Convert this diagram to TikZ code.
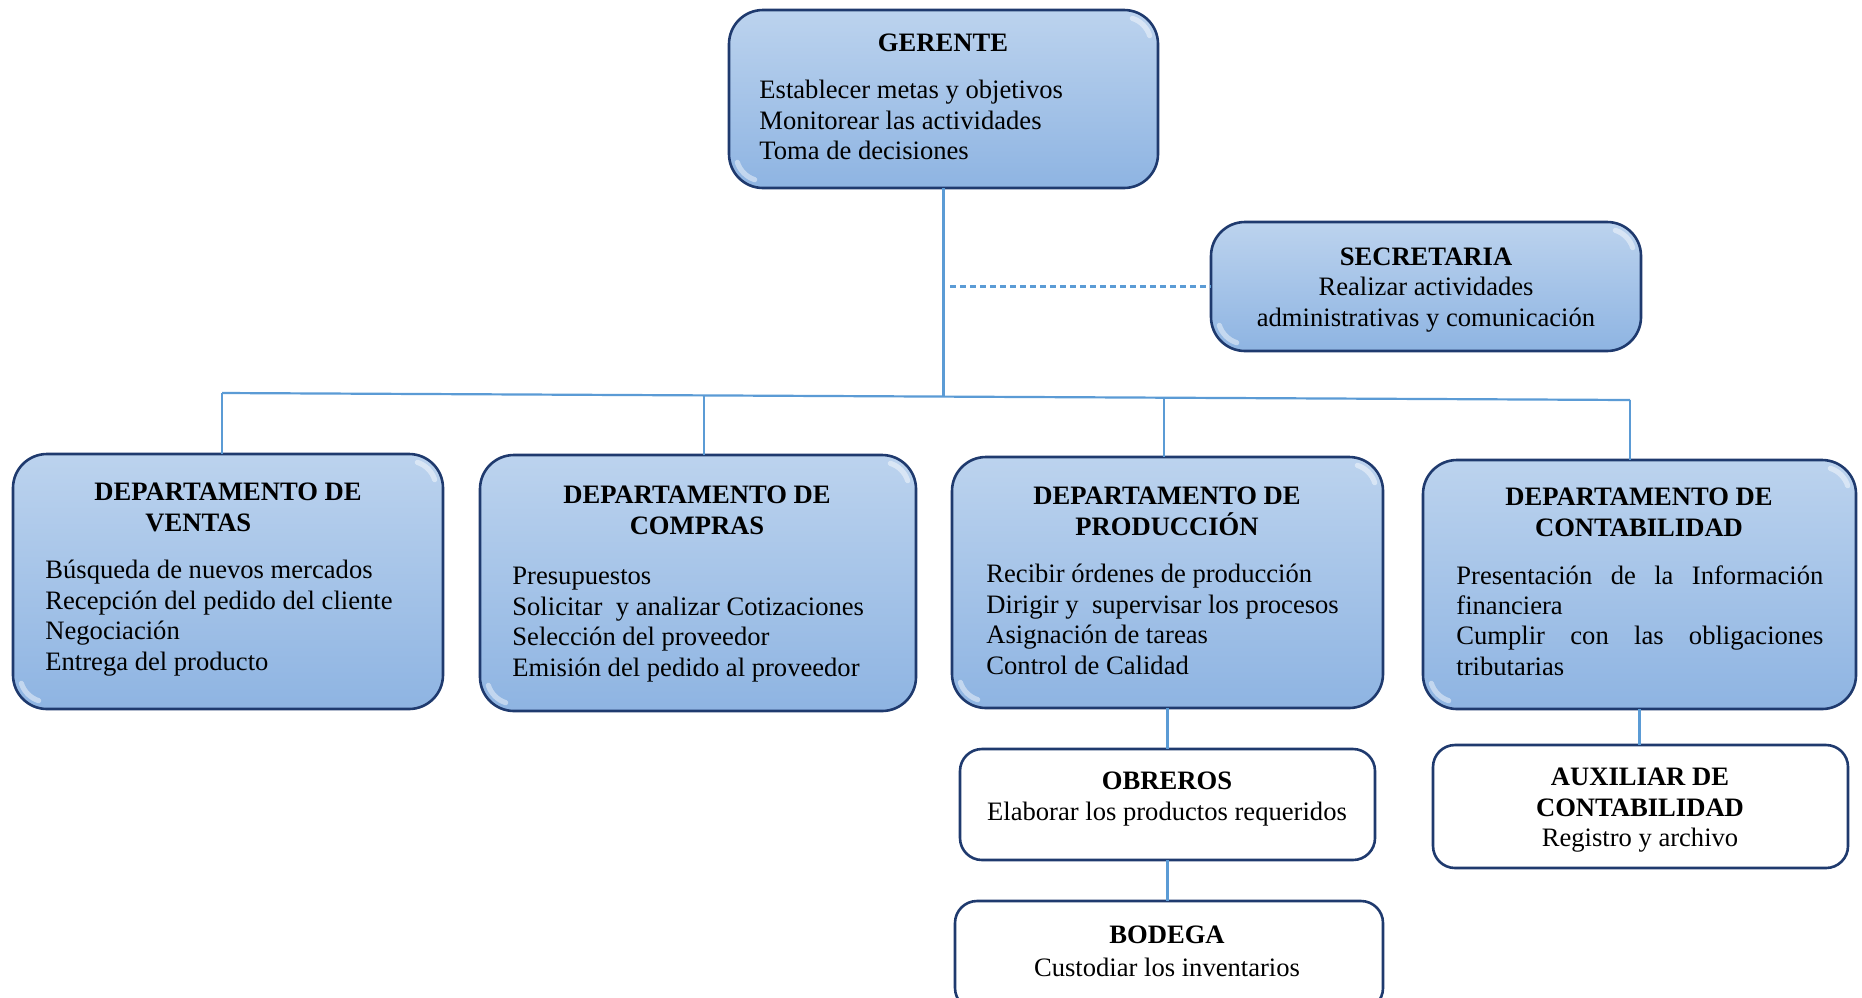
\documentclass[tikz,border=0pt]{standalone}
\usepackage{fontspec}
\setmainfont{Liberation Serif}
\usetikzlibrary{calc}
\definecolor{boxline}{HTML}{1F3A6E}
\definecolor{boxtop}{HTML}{BCD3EE}
\definecolor{boxbot}{HTML}{8EB4E2}
\definecolor{linkblue}{HTML}{5B9BD5}
% light bevel highlights in two corners of a blue box
\newcommand{\bevelglint}[1]{%
  \begin{scope}[x=1pt,y=1pt]
    \draw[glint] ($(#1.north east)+(-17,-17)+(72:13.5)$) arc[start angle=72,end angle=18,radius=13.5];
    \draw[glint] ($(#1.south west)+(17,17)+(252:13.5)$) arc[start angle=252,end angle=198,radius=13.5];
  \end{scope}}
\begin{document}
\begin{tikzpicture}[x=0.5pt,y=-0.5pt,
  bluebox/.style={draw=boxline, line width=1.3pt, rounded corners=17pt,
    top color=boxtop, bottom color=boxbot, inner sep=0pt, outer sep=0pt},
  whitebox/.style={draw=boxline, line width=1.3pt, rounded corners=11pt,
    fill=white, inner sep=0pt, outer sep=0pt},
  glint/.style={draw=white, opacity=0.45, line width=2.6pt, line cap=round},
  head/.style={font=\fontsize{13.3}{15.4}\selectfont\bfseries, align=center, inner sep=0pt},
  body/.style={font=\fontsize{13.3}{15.2}\selectfont, align=left, inner sep=0pt},
  cbody/.style={body, align=center},
  link/.style={draw=linkblue, line width=1.1pt},
]
\clip (0,0) rectangle (1862,997);

% ---- boxes ----
\node[bluebox, minimum width=214.5pt, minimum height=89pt]  (ger) at (943.5,99) {};
\node[bluebox, minimum width=215pt,   minimum height=64.5pt] (sec) at (1426,286.5) {};
\node[bluebox, minimum width=215pt,   minimum height=127.5pt] (ven) at (228,581.5) {};
\node[bluebox, minimum width=218pt,   minimum height=128pt]  (com) at (698,583) {};
\node[bluebox, minimum width=215.5pt, minimum height=125.5pt] (pro) at (1167.5,582.5) {};
\node[bluebox, minimum width=216.5pt, minimum height=124.5pt] (con) at (1639.5,584.5) {};
\node[whitebox, minimum width=207.5pt, minimum height=55.5pt] (obr) at (1167.5,804.5) {};
\node[whitebox, minimum width=214pt,   minimum height=54.5pt] (bod) at (1169,955.5) {};
\node[whitebox, minimum width=207.5pt, minimum height=61.5pt] (aux) at (1640.5,806.5) {};

\bevelglint{ger}
\bevelglint{sec}
\bevelglint{ven}
\bevelglint{com}
\bevelglint{pro}
\bevelglint{con}

% ---- texts ----
\node[head] (gerT) at (943,43) {GERENTE};
\node[body, anchor=north west] (gerB) at (759,80)
  {Establecer metas y objetivos\\Monitorear las actividades\\Toma de decisiones};

\node[head] (secT) at (1426,257) {SECRETARIA};
\node[cbody, anchor=north] (secB) at (1426,277)
  {Realizar actividades\\administrativas y comunicación};

\node[head, align=left] (venT) at (228,507) {DEPARTAMENTO DE\\\hspace*{25.5pt}VENTAS};
\node[body, anchor=north west] (venB) at (45,560)
  {Búsqueda de nuevos mercados\\Recepción del pedido del cliente\\Negociación\\Entrega del producto};

\node[head] (comT) at (697,510) {DEPARTAMENTO DE\\COMPRAS};
\node[body, anchor=north west] (comB) at (512,567)
  {Presupuestos\\Solicitar \ y analizar Cotizaciones\\Selección del proveedor\\Emisión del pedido al proveedor};

\node[head] (proT) at (1167,511) {DEPARTAMENTO DE\\PRODUCCIÓN};
\node[body, anchor=north west] (proB) at (986,564)
  {Recibir órdenes de producción\\Dirigir y \ supervisar los procesos\\Asignación de tareas\\Control de Calidad};

\node[head] (conT) at (1639,512.5) {DEPARTAMENTO DE\\CONTABILIDAD};
\node[body, anchor=north west] (conB) at (1456,565)
  {\makebox[183.5pt][s]{Presentación de la Información}\\financiera\\
   \makebox[183.5pt][s]{Cumplir con las obligaciones}\\tributarias};

\node[head] (obrT) at (1167,781) {OBREROS};
\node[cbody, anchor=north] (obrB) at (1167,802) {Elaborar los productos requeridos};

\node[head] (bodT) at (1167,935) {BODEGA};
\node[cbody, anchor=north] (bodB) at (1167,958) {Custodiar los inventarios};

\node[head] (auxT) at (1640,792.5) {AUXILIAR DE\\CONTABILIDAD};
\node[cbody, anchor=north] (auxB) at (1640,828) {Registro y archivo};

% ---- connectors ----
\coordinate (busL) at (222,393);
\coordinate (busR) at (1630,400);
\coordinate (busG) at (943.5,396.6);
\coordinate (busC) at (704,395.4);
\coordinate (busP) at (1164,397.7);
\coordinate (secS) at (950,286.5);

\draw[link] (ger.south) -- (busG);
\draw[link] (busL) -- (busR);
\draw[link] (busL) -- (busL |- ven.north);
\draw[link] (busC) -- (busC |- com.north);
\draw[link] (busP) -- (busP |- pro.north);
\draw[link] (busR) -- (busR |- con.north);
\draw[link, dash pattern=on 3pt off 2pt] (secS) -- (sec.west);
\draw[link] (pro.south) -- (obr.north);
\draw[link] (obr.south) -- (obr.south |- bod.north);
\draw[link] (con.south) -- (con.south |- aux.north);
\end{tikzpicture}
\end{document}
